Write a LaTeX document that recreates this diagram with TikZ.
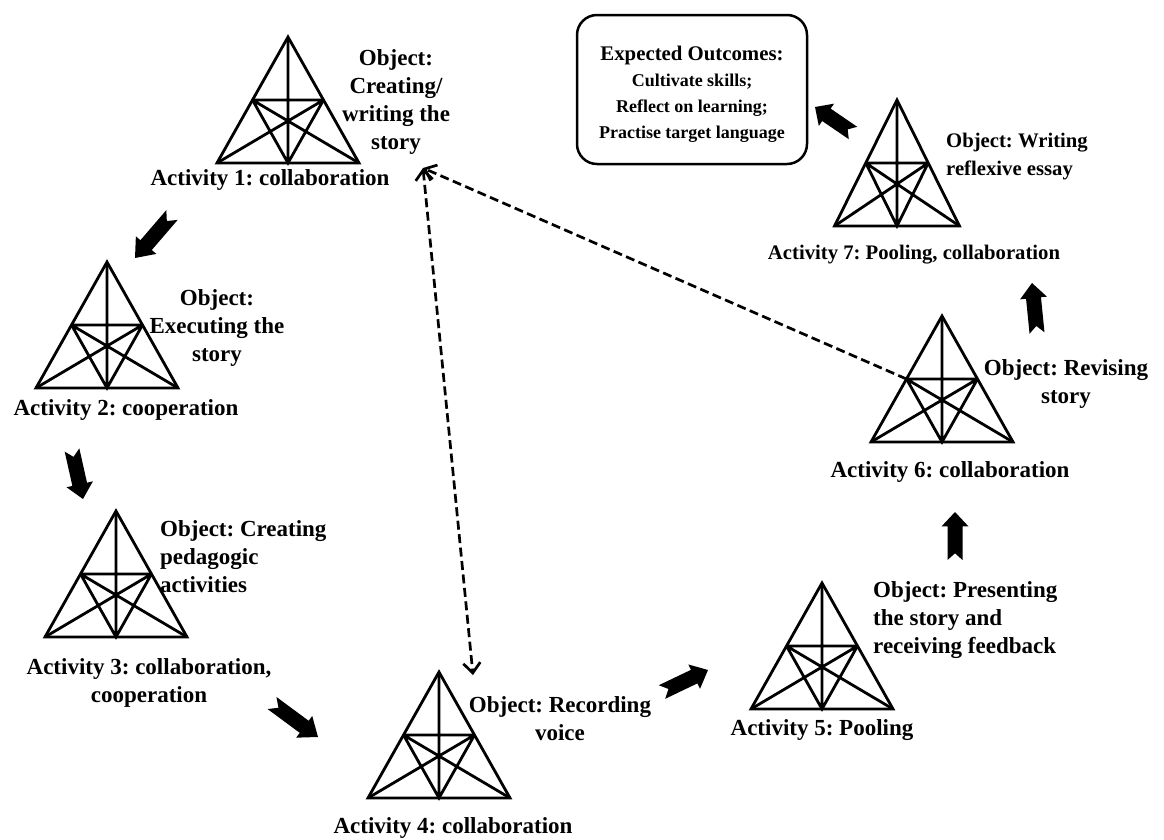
\documentclass[tikz,border=0pt]{standalone}
\usepackage{fontspec}
\setmainfont{Liberation Serif}
\frenchspacing
\usetikzlibrary{arrows.meta, calc, fit, positioning}
\tikzset{%
  tri/.style={line width=2.8pt},
  actlabel/.style={inner sep=0pt, align=center,
    font=\bfseries\fontsize{23}{28}\selectfont},
  actsmall/.style={actlabel, font=\bfseries\fontsize{20.7}{28}\selectfont},
  dashlink/.style={line width=2.7pt, dash pattern=on 9pt off 4.5pt},
  barb/.tip={Straight Barb[length=10pt, width=17pt, line width=2.7pt]},
  outbox/.style={draw, line width=2.5pt, rounded corners=20pt, inner sep=0pt},
  outtext/.style={inner sep=0pt, align=center,
    font=\bfseries\fontsize{18}{26}\selectfont},
  % activity system triangle, apex at the origin
  actsys/.pic={
    \coordinate (-top) at (0,0);
    \coordinate (-bl) at (-71,126);
    \coordinate (-br) at (71,126);
    \coordinate (-bm) at (0,126);
    \coordinate (-l) at (-35.5,63);
    \coordinate (-r) at (35.5,63);
    \draw[tri] (-top) -- (-bl) -- (-br) -- cycle;
    \draw[tri] (-top) -- (-bm) (-l) -- (-r)
      (-l) -- (-br) (-r) -- (-bl) (-l) -- (-bm) -- (-r);
  },
  fatarrow/.pic={
    \fill (0,7.5) -- (35,7.5) -- (35,13.5) -- (50,0) -- (35,-13.5)
      -- (35,-7.5) -- (0,-7.5) -- (7,0) -- cycle;
  }
}
% block arrow from #1 to #2
\newcommand\fatarrow[2]{%
  \path let \p1=($(#2)-(#1)$), \n1={atan2(\y1,\x1)},
    \n2={veclen(\x1,\y1)/50} in (#1) pic[rotate=\n1, xscale=\n2] {fatarrow};}

\begin{document}
\begin{tikzpicture}[x=1pt, y=-1pt]
    \useasboundingbox (0,0) rectangle (1164,839);

    \pic (t1) at (288,37) {actsys};
    \pic (t2) at (107,262) {actsys};
    \pic (t3) at (116,511) {actsys};
    \pic (t4) at (439,672) {actsys};
    \pic (t5) at (822,583) {actsys};
    \pic (t6) at (942,316) {actsys};
    \pic[xscale=0.88] (t7) at (897,100) {actsys};

    \node[actlabel] (act1) at (270,180) {Activity 1: collaboration};
    \node[actlabel] (act2) at (126,410) {Activity 2: cooperation};
    \node[actlabel] (act3) at (149,683) {Activity 3: collaboration,\\cooperation};
    \node[actlabel] (act4) at (453,828) {Activity 4: collaboration};
    \node[actlabel] (act5) at (822,730) {Activity 5: Pooling};
    \node[actlabel] (act6) at (950,472) {Activity 6: collaboration};
    \node[actsmall] (act7) at (914,255) {Activity 7: Pooling, collaboration};

    \node[actlabel] (obj1) at (396,102) {Object:\\Creating/\\writing the\\story};
    \node[actlabel] (obj2) at (217,328) {Object:\\Executing the\\story};
    \node[actlabel, align=left, anchor=west] (obj3) at (160,557)
      {Object: Creating\\pedagogic\\activities};
    \node[actlabel] (obj4) at (560,719) {Object: Recording\\voice};
    \node[actlabel, align=left, anchor=west] (obj5) at (873,620)
      {Object: Presenting\\the story and\\receiving feedback};
    \node[actlabel] (obj6) at (1066,384) {Object: Revising\\story};
    \node[actsmall, align=left, anchor=west] (obj7) at (946,157)
      {Object: Writing\\reflexive essay};

    \node[outbox, fit={(577,15) (807,164)}] (goal) {};
    \node[outtext] (goaltext) at (692,94)
      {{\fontsize{20.8}{26}\selectfont Expected Outcomes:}\\Cultivate skills;\\
       Reflect on learning;\\Practise target language};

    % block arrows between the activities
    \coordinate (a1s) at (172,215); \coordinate (a1e) at (135,258);
    \coordinate (a2s) at (72,450);  \coordinate (a2e) at (83,499);
    \coordinate (a3s) at (272,703); \coordinate (a3e) at (318,737);
    \coordinate (a4s) at (662,692); \coordinate (a4e) at (708,670);
    \coordinate (a5s) at (955,560); \coordinate (a5e) at (955,512);
    \coordinate (a6s) at (1037,333); \coordinate (a6e) at (1032,283);
    \coordinate (a7s) at (853,133); \coordinate (a7e) at (815,107);
    \foreach \i in {1,...,7}
      \fatarrow{a\i s}{a\i e};

    % dashed links back to the story
    \coordinate (d1) at (423,168);
    \coordinate (d4) at (473,675);
    \draw[dashlink, barb-barb] (d1) -- (d4);
    \draw[dashlink, -barb] (t6-l) -- (d1);

\end{tikzpicture}
\end{document}
